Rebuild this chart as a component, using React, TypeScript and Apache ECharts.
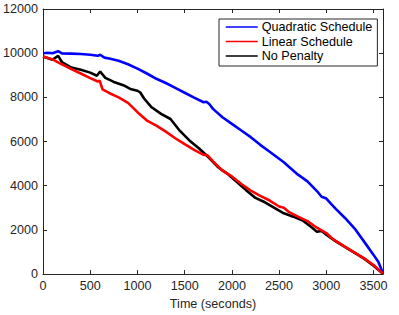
import React, { useEffect, useRef } from "react";
import * as echarts from "echarts";

const seriesNames = ["Quadratic Schedule", "Linear Schedule", "No Penalty"];
const xTicks = { min: 0, max: 3600, interval: 500 };
const yTicks = { min: 0, max: 12000, interval: 2000 };

const quadratic: [number, number][] = [
  [0, 10000], [50, 10020], [100, 10000], [160, 10090], [200, 9990], [300, 9980],
  [400, 9960], [500, 9930], [580, 9880], [605, 9930], [650, 9800], [700, 9760],
  [800, 9660], [900, 9500], [1000, 9300], [1100, 9080], [1200, 8840], [1300, 8650],
  [1400, 8430], [1500, 8210], [1600, 7990], [1700, 7780], [1730, 7800], [1760, 7700],
  [1800, 7480], [1900, 7100], [2000, 6800], [2100, 6500], [2200, 6200], [2300, 5850],
  [2400, 5540], [2500, 5220], [2550, 5060], [2600, 4870], [2700, 4500], [2800, 4200],
  [2900, 3760], [2950, 3500], [3000, 3420], [3050, 3180], [3100, 2950], [3200, 2530],
  [3300, 2060], [3400, 1470], [3500, 870], [3550, 560], [3600, 40],
];

const linear: [number, number][] = [
  [0, 9850], [100, 9720], [180, 9540], [300, 9280], [400, 9080], [500, 8870],
  [580, 8720], [600, 8760], [630, 8360], [700, 8200], [800, 8000], [900, 7750],
  [1000, 7330], [1100, 6950], [1200, 6720], [1300, 6450], [1400, 6150], [1500, 5880],
  [1600, 5620], [1700, 5400], [1740, 5380], [1800, 5100], [1900, 4680], [2000, 4420],
  [2100, 4080], [2200, 3780], [2300, 3540], [2400, 3330], [2500, 3060], [2550, 3000],
  [2600, 2820], [2700, 2600], [2800, 2400], [2900, 2100], [3000, 1860], [3050, 1660],
  [3100, 1500], [3200, 1230], [3300, 970], [3400, 710], [3500, 410], [3600, 20],
];

const noPenalty: [number, number][] = [
  [0, 9850], [100, 9700], [160, 9880], [200, 9600], [300, 9350], [400, 9250],
  [500, 9120], [570, 8980], [605, 9170], [660, 8880], [750, 8700], [850, 8550],
  [924, 8380], [1000, 8300], [1030, 8220], [1070, 7950], [1150, 7550], [1250, 7250],
  [1350, 7020], [1450, 6480], [1550, 6050], [1650, 5700], [1750, 5300], [1850, 4850],
  [1950, 4550], [2050, 4180], [2150, 3800], [2250, 3450], [2350, 3250], [2450, 3000],
  [2550, 2750], [2650, 2600], [2750, 2430], [2850, 2100], [2900, 1920], [2950, 1950],
  [3000, 1780], [3100, 1480], [3200, 1220], [3300, 960], [3400, 700], [3500, 380],
  [3600, 20],
];

const colors = ["#0000ff", "#ff0000", "#000000"];
const axisColor = "#262626";
const font = "'Liberation Sans', Arial, Helvetica, sans-serif";

export default function App() {
  const ref = useRef<HTMLDivElement>(null);
  useEffect(() => {
    if (!ref.current) return;
    const chart = echarts.init(ref.current, null, { renderer: "svg" });
    const tickCommon = {
      show: true,
      inside: true,
      length: 4,
      lineStyle: { color: axisColor, width: 1 },
    };
    const lineCommon = { show: true, onZero: false, lineStyle: { color: axisColor, width: 1 } };
    chart.setOption({
      animation: false,
      backgroundColor: "#ffffff",
      textStyle: { fontFamily: font },
      grid: { left: 43, right: 16, top: 9, bottom: 37, containLabel: false },
      legend: {
        data: seriesNames,
        orient: "vertical",
        left: 219,
        top: 19,
        padding: [1, 5, 3, 6],
        itemWidth: 32,
        itemHeight: 14,
        itemGap: 0.5,
        backgroundColor: "#ffffff",
        borderColor: axisColor,
        borderWidth: 1,
        borderRadius: 0,
        lineStyle: { width: 1.5 },
        itemStyle: { opacity: 0, color: "rgba(0,0,0,0)", borderWidth: 0 },
        textStyle: { fontFamily: font, fontSize: 12.6, color: "#000000", lineHeight: 14, padding: [0, 0, 0, -1] },
      },
      xAxis: [
        {
          type: "value",
          min: xTicks.min,
          max: xTicks.max,
          interval: xTicks.interval,
          name: "Time (seconds)",
          nameLocation: "middle",
          nameGap: 19,
          nameTextStyle: { fontFamily: font, fontSize: 12.6, color: axisColor },
          axisLine: lineCommon,
          axisTick: tickCommon,
          axisLabel: {
            margin: 5,
            fontFamily: font,
            fontSize: 12.6,
            color: axisColor,
            showMaxLabel: false,
            formatter: (v: number) => (v % xTicks.interval === 0 ? String(v) : ""),
          },
          splitLine: { show: false },
        },
        {
          type: "value",
          position: "top",
          min: xTicks.min,
          max: xTicks.max,
          interval: xTicks.interval,
          axisLine: lineCommon,
          axisTick: tickCommon,
          axisLabel: { show: false },
          splitLine: { show: false },
        },
      ],
      yAxis: [
        {
          type: "value",
          min: yTicks.min,
          max: yTicks.max,
          interval: yTicks.interval,
          axisLine: lineCommon,
          axisTick: tickCommon,
          axisLabel: {
            margin: 5,
            fontFamily: font,
            fontSize: 12.6,
            color: axisColor,
            formatter: (v: number) => String(v),
          },
          splitLine: { show: false },
        },
        {
          type: "value",
          position: "right",
          min: yTicks.min,
          max: yTicks.max,
          interval: yTicks.interval,
          axisLine: lineCommon,
          axisTick: tickCommon,
          axisLabel: { show: false },
          splitLine: { show: false },
        },
      ],
      series: [
        {
          name: seriesNames[0],
          type: "line",
          data: quadratic,
          symbol: "none",
          color: colors[0],
          lineStyle: { color: colors[0], width: 2.6 },
          z: 2,
        },
        {
          name: seriesNames[2],
          type: "line",
          data: noPenalty,
          symbol: "none",
          color: colors[2],
          lineStyle: { color: colors[2], width: 2.6 },
          z: 3,
        },
        {
          name: seriesNames[1],
          type: "line",
          data: linear,
          symbol: "none",
          color: colors[1],
          lineStyle: { color: colors[1], width: 2.6 },
          z: 4,
        },
      ],
    });
    return () => chart.dispose();
  }, []);
  return (
    <div
      ref={ref}
      style={{ position: "fixed", left: 0, top: 0, width: 399, height: 315, background: "#fff" }}
    />
  );
}
